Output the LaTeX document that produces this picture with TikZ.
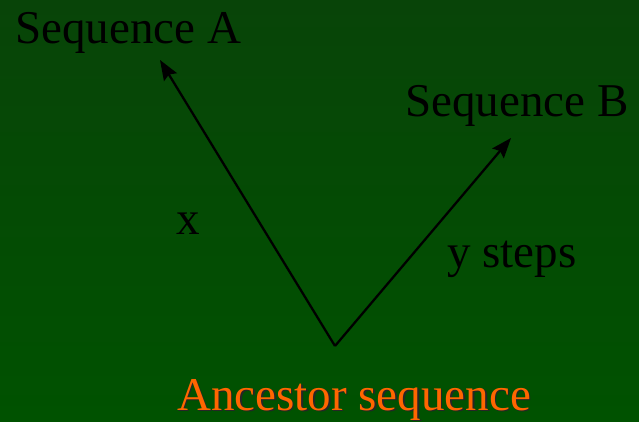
\documentclass[tikz,border=0pt]{standalone}
\usepackage{fontspec}
\setmainfont{Liberation Serif}
\usetikzlibrary{arrows.meta}
\definecolor{bgtop}{RGB}{8,68,8}
\definecolor{bgbot}{RGB}{0,82,0}
\definecolor{ancorange}{RGB}{255,102,0}
\newcommand{\shadowed}[1]{\rlap{\hspace{1.5pt}\raisebox{-1.5pt}{\textcolor{black!85}{#1}}}#1}

\begin{document}
\begin{tikzpicture}[x=1pt,y=1pt]
	\fill[top color=bgtop, bottom color=bgbot] (0,0) rectangle (639,421);
	\useasboundingbox (0,0) rectangle (639,421);
	\coordinate (root) at (335,75);
	\coordinate (tipA) at (160,361);
	\coordinate (tipB) at (511,283);
	\begin{scope}[every node/.style={anchor=base west,inner sep=0pt,font=\fontsize{47}{50}\selectfont}]
	\node (seqA) at (15,377) {Sequence A};
	\node (seqB) at (405,304) {Sequence B};
	\node (lblx) at (176,187) {x};
	\node (lbly) at (447,154) {y steps};
	\node[ancorange] (anc) at (177,11) {\shadowed{Ancestor sequence}};
	\end{scope}
	\draw [line width=0.8mm, -{Stealth[length=20pt,width=15pt,inset=3pt]}] (root) -- (tipA);
	\draw [line width=0.8mm, -{Stealth[length=20pt,width=15pt,inset=3pt]}] (root) -- (tipB);
\end{tikzpicture}
\end{document}
